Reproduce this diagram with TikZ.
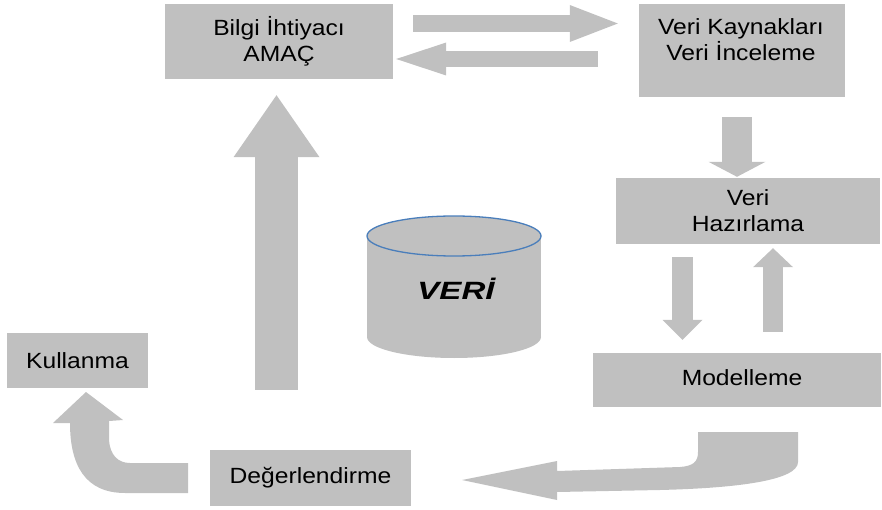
\documentclass[tikz,border=0pt]{standalone}
\usepackage{fontspec}
\setmainfont{Liberation Sans}[FakeStretch=1.12]
\usetikzlibrary{arrows.meta,calc}
\definecolor{gcol}{RGB}{192,192,192}
\definecolor{ecol}{RGB}{74,126,187}
\begin{document}
\begin{tikzpicture}[x=1pt,y=-1pt,
  box/.style={fill=gcol, draw=none, inner sep=0pt, font=\fontsize{22}{26}\selectfont, align=center},
  barrow/.style={draw=gcol, fill=gcol},
  curvearrow/.style={fill=gcol, draw=none}]
\useasboundingbox (0,0) rectangle (882,510);

% boxes
\node[box, minimum width=228pt, minimum height=75pt] (bilgi) at (279,41.5) {Bilgi İhtiyacı\\AMAÇ};
\node[box, minimum width=206pt, minimum height=93pt] (kaynak) at (742,50.5) {};
\node[box, fill=none] (kaynaktxt) at (741,40) {Veri Kaynakları\\Veri İnceleme};
\node[box, minimum width=264pt, minimum height=66pt] (hazir) at (748,211) {Veri\\Hazırlama};
\node[box, minimum width=288pt, minimum height=54pt] (model) at (737,380) {};
\node[box, fill=none] (modeltxt) at (742,378) {Modelleme};
\node[box, minimum width=141pt, minimum height=55pt] (kullan) at (77.5,360.5) {Kullanma};
\node[box, minimum width=201pt, minimum height=56pt] (deger) at (310.5,478) {Değerlendirme};

% cylinder
\fill[gcol] (454,337) ellipse [x radius=87pt, y radius=21pt];
\fill[gcol] (367,236) rectangle (541,337);
\filldraw[fill=gcol, draw=ecol, line width=1.3pt] (454,236) ellipse [x radius=87pt, y radius=20pt];
\node[font=\fontsize{25}{28}\selectfont\bfseries\itshape, inner sep=0pt] (veri) at (456,289) {\scalebox{1.18}[1]{VERİ}};

% straight block arrows
\draw[barrow, line width=17pt, -{Triangle[length=48pt,width=37pt,line width=0pt]}, shorten <=20pt, shorten >=21pt]
  ([yshift=18pt]bilgi.east) -- ([yshift=18pt]bilgi.east -| kaynak.west);
\draw[barrow, line width=16pt, -{Triangle[length=50pt,width=33pt,line width=0pt]}, shorten <=41pt, shorten >=3pt]
  ([yshift=-17.5pt]bilgi.east -| kaynak.west) -- ([yshift=-17.5pt]bilgi.east);
\draw[barrow, line width=30pt, -{Triangle[length=15pt,width=57pt,line width=0pt]}, shorten <=20pt, shorten >=1pt]
  ([xshift=-5pt]kaynak.south) -- ([xshift=-5pt]kaynak.south |- hazir.north);
\draw[barrow, line width=21pt, -{Triangle[length=20pt,width=40pt,line width=0pt]}, shorten <=13pt, shorten >=13pt]
  ([xshift=-65.5pt]hazir.south) -- ([xshift=-65.5pt]hazir.south |- model.north);
\draw[barrow, line width=20pt, -{Triangle[length=19pt,width=40pt,line width=0pt]}, shorten <=21pt, shorten >=4pt]
  ([xshift=25pt]hazir.south |- model.north) -- ([xshift=25pt]hazir.south);
\draw[barrow, line width=43pt, -{Triangle[length=62pt,width=86pt,line width=0pt]}, shorten <=60pt, shorten >=16pt]
  ([xshift=-34pt]deger.north) -- ([xshift=-34pt]deger.north |- bilgi.south);

% curved arrow Modelleme -> Degerlendirme
\fill[curvearrow] (698,432) -- (798,432) -- (798,462)
  .. controls (798,480) and (740,488) .. (660,490) -- (557,492) -- (557,500) -- (462,480)
  -- (557,461) -- (557,471) -- (680,467) .. controls (693,466) and (698,462) .. (698,452) -- cycle;

% curved arrow Degerlendirme -> Kullanma
\fill[curvearrow] (188,493) -- (188,463) -- (130,463) .. controls (118,463) and (110,455) .. (109,440)
  -- (109,421) -- (123,420) -- (86,392) -- (53,423) -- (70,423)
  .. controls (70,465) and (85,493) .. (125,493) -- cycle;
\end{tikzpicture}
\end{document}
